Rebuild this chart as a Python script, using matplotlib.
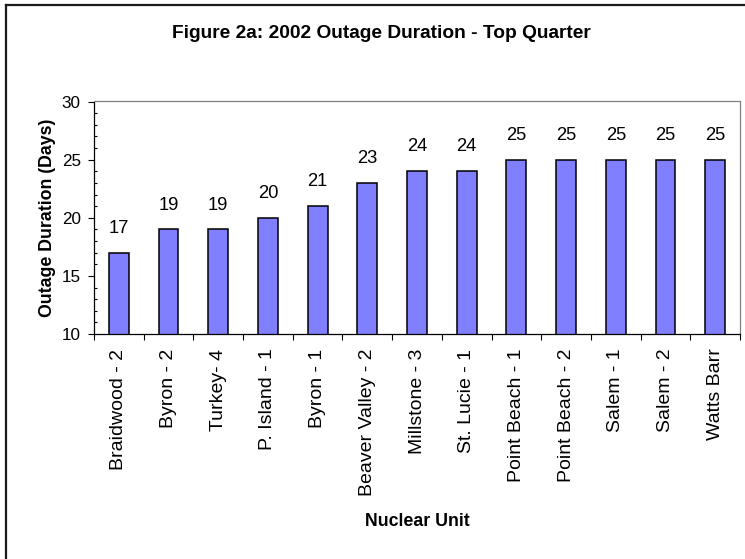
import matplotlib
matplotlib.use("Agg")
import matplotlib.pyplot as plt
from matplotlib.lines import Line2D
from matplotlib.ticker import MultipleLocator, FixedLocator

plt.rcParams['font.family'] = ['Liberation Sans', 'DejaVu Sans']

units = ["Braidwood - 2", "Byron - 2", "Turkey- 4", "P. Island - 1", "Byron - 1",
         "Beaver Valley - 2", "Millstone - 3", "St. Lucie - 1", "Point Beach - 1",
         "Point Beach - 2", "Salem - 1", "Salem - 2", "Watts Barr"]
days = [17, 19, 19, 20, 21, 23, 24, 24, 25, 25, 25, 25, 25]
y_ticks = [10, 15, 20, 25, 30]

W, H = 745, 559
fig = plt.figure(figsize=(W / 100, H / 100), dpi=100)
ax = fig.add_axes([94 / W, 1 - 334 / H, (740 - 94) / W, (334 - 101.5) / H])

x = list(range(len(units)))
ax.bar(x, days, width=0.40, color='#8080FF', edgecolor='black', linewidth=1.1, zorder=2)

for xi, v in zip(x, days):
    ax.annotate(str(v), (xi, v), xytext=(0, 17.5), textcoords='offset points',
                ha='center', va='center', fontsize=13.2)

ax.set_xlim(-0.5, len(units) - 0.5)
ax.set_ylim(10, 30)
ax.set_yticks(y_ticks)
ax.yaxis.set_minor_locator(MultipleLocator(1))
ax.set_xticks(x)
ax.set_xticklabels(units, rotation=90, fontsize=14, va='top', ha='center')
ax.xaxis.set_minor_locator(FixedLocator([i - 0.5 for i in range(len(units) + 1)]))

ax.tick_params(axis='x', which='major', length=0, pad=10.5)
ax.tick_params(axis='x', which='minor', length=4, width=0.8, direction='out')
ax.tick_params(axis='y', which='major', length=4, width=0.8, direction='out', pad=5.5, labelsize=12.3)
ax.tick_params(axis='y', which='minor', length=2.5, width=0.8, direction='in')

for s in ['left', 'bottom']:
    ax.spines[s].set_color('black')
    ax.spines[s].set_linewidth(0.9)
for s in ['top', 'right']:
    ax.spines[s].set_color('#808080')
    ax.spines[s].set_linewidth(0.9)

ax.set_ylabel("Outage Duration (Days)", fontsize=12.8, fontweight='bold', va='center')
ax.yaxis.set_label_coords((48 - 94) / (740 - 94), 0.5)
ax.set_xlabel("Nuclear Unit", fontsize=12.8, fontweight='bold', va='center')
ax.xaxis.set_label_coords(0.5, (334 - 522) / (334 - 101.5))

fig.text(381 / W, 1 - 34 / H, "Figure 2a: 2002 Outage Duration - Top Quarter",
         ha='center', va='center', fontsize=13.8, fontweight='bold')

# outer chart frame (left and top edges visible)
fig.add_artist(Line2D([5.5 / W, 5.5 / W], [0, 1 - 4.5 / H], transform=fig.transFigure,
                      color='#1a1a1a', linewidth=1.6))
fig.add_artist(Line2D([5.5 / W, 1], [1 - 4.5 / H, 1 - 4.5 / H], transform=fig.transFigure,
                      color='#1a1a1a', linewidth=1.6))

fig.savefig("out.png", dpi=100)
